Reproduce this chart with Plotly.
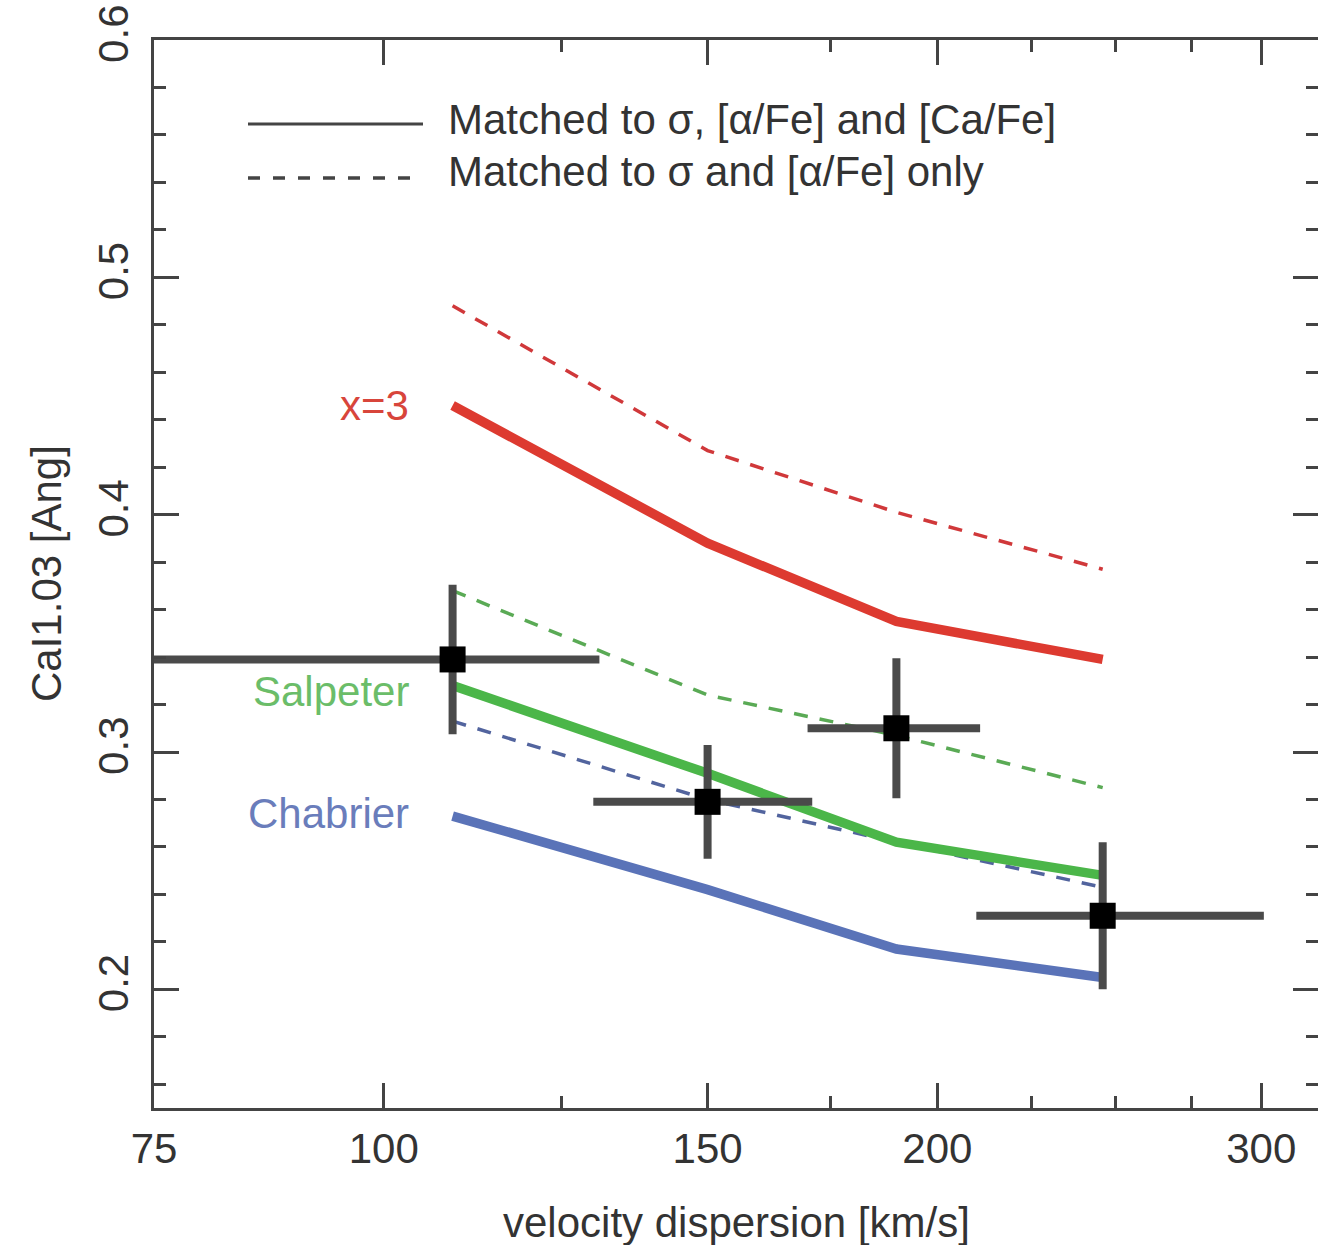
import plotly.graph_objects as go
import numpy as np

# ---------------- data ----------------
sigma = [109, 150, 190, 246]

x3_full = [0.446, 0.388, 0.355, 0.339]
x3_alpha = [0.488, 0.427, 0.401, 0.377]
salp_full = [0.328, 0.291, 0.262, 0.248]
salp_alpha = [0.368, 0.324, 0.307, 0.285]
chab_full = [0.273, 0.242, 0.217, 0.205]
chab_alpha = [0.313, 0.280, 0.262, 0.243]

obs_sigma = [109, 150, 190, 246]
obs_cai = [0.339, 0.279, 0.310, 0.231]
obs_err = [0.0315, 0.024, 0.0295, 0.031]
bin_lo = [60, 130, 170, 210]
bin_hi = [131, 171, 211, 301]

x_tick_vals = [75, 100, 150, 200, 300]
x_minor_vals = [125, 175, 225, 250, 275]
y_tick_vals = [0.2, 0.3, 0.4, 0.5, 0.6]

# ---------------- style ----------------
RED = "#dd3a30"
RED_D = "#d0383a"
GREEN = "#4bb649"
GREEN_D = "#5aaa55"
BLUE = "#5a73b8"
BLUE_D = "#52649e"
AX = "#444444"
TXT = "#333333"
FONT = "Liberation Sans, Arial, Helvetica, sans-serif"
FS = 42

W, H = 1318, 1245
L, R, T, B = 154, 0, 40, 137
PW, PH = W - L - R, H - T - B

fig = go.Figure()

def add_line(y, color, width, dash=None):
    fig.add_trace(go.Scatter(
        x=sigma, y=y, mode="lines",
        line=dict(color=color, width=width, dash=dash or "solid"),
        showlegend=False, hoverinfo="skip"))

add_line(x3_alpha, RED_D, 3.5, "14px,12px")
add_line(salp_alpha, GREEN_D, 3.5, "14px,12px")
add_line(chab_alpha, BLUE_D, 3.5, "14px,12px")
add_line(x3_full, RED, 9.5)
add_line(salp_full, GREEN, 9.5)
add_line(chab_full, BLUE, 9.5)

xm = [s - lo for s, lo in zip(obs_sigma, bin_lo)]
xp = [hi - s for s, hi in zip(obs_sigma, bin_hi)]
fig.add_trace(go.Scatter(
    x=obs_sigma, y=obs_cai, mode="markers",
    marker=dict(symbol="square", size=26, color="black"),
    error_y=dict(type="data", array=obs_err, color="#4a4a4a", thickness=8, width=0),
    error_x=dict(type="data", array=xp, arrayminus=xm, color="#4a4a4a", thickness=8, width=0),
    showlegend=False, hoverinfo="skip"))

# empty trace carrying the right-hand tick axis
fig.add_trace(go.Scatter(x=[], y=[], yaxis="y2", showlegend=False, hoverinfo="skip"))

# ---------------- axes ----------------
fig.update_layout(
    xaxis=dict(
        type="log", range=[np.log10(75), np.log10(75) + PW / 1839.0],
        tickmode="array", tickvals=x_tick_vals, ticktext=[str(v) for v in x_tick_vals],
        ticks="inside", ticklen=25, tickwidth=2.5, tickcolor=AX,
        minor=dict(tickmode="array", tickvals=x_minor_vals, ticks="inside", ticklen=12,
                   tickwidth=2.5, tickcolor=AX, showgrid=False),
        showline=True, linecolor=AX, linewidth=2.5, mirror="ticks",
        showgrid=False, zeroline=False,
        tickfont=dict(family=FONT, size=FS, color=TXT), ticklabelstandoff=2,
    ),
    yaxis=dict(
        range=[0.15, 0.6],
        tickmode="array", tickvals=y_tick_vals, ticktext=[f"{v:.1f}" for v in y_tick_vals],
        ticks="inside", ticklen=25, tickwidth=2.5, tickcolor=AX,
        minor=dict(dtick=0.02, tick0=0, ticks="inside", ticklen=12, tickwidth=2.5,
                   tickcolor=AX, showgrid=False),
        showline=True, linecolor=AX, linewidth=2.5, mirror=False,
        showgrid=False, zeroline=False, tickangle=-90,
        tickfont=dict(family=FONT, size=FS, color=TXT), ticklabelstandoff=6,
    ),
    yaxis2=dict(
        range=[0.15, 0.6], overlaying="y", side="right", anchor="x",
        tickmode="array", tickvals=y_tick_vals,
        ticks="inside", ticklen=25, tickwidth=2.5, tickcolor=AX,
        minor=dict(dtick=0.02, tick0=0, ticks="inside", ticklen=12, tickwidth=2.5,
                   tickcolor=AX, showgrid=False),
        showline=False, showticklabels=False, showgrid=False, zeroline=False,
    ),
)

# ---------------- legend (drawn) ----------------
def px(xp_):
    return (xp_ - L) / PW

def py(yp_):
    return 1 - (yp_ - T) / PH

shapes = [
    dict(type="line", xref="paper", yref="paper", x0=px(248), x1=px(423), y0=py(124), y1=py(124),
         line=dict(color=AX, width=3)),
    dict(type="line", xref="paper", yref="paper", x0=px(248), x1=px(412), y0=py(178), y1=py(178),
         line=dict(color=AX, width=3.5, dash="12px,13px")),
]
annotations = [
    dict(xref="paper", yref="paper", x=px(446), y=py(119), xanchor="left", yanchor="middle",
         text="Matched to σ, [α/Fe] and [Ca/Fe]", showarrow=False,
         font=dict(family=FONT, size=FS, color=TXT)),
    dict(xref="paper", yref="paper", x=px(446), y=py(171), xanchor="left", yanchor="middle",
         text="Matched to σ and [α/Fe] only", showarrow=False,
         font=dict(family=FONT, size=FS, color=TXT)),
    # curve labels
    dict(x=np.log10(sigma[0]), y=x3_full[0], xanchor="right", yanchor="middle", xshift=-42,
         text="x=3", showarrow=False, font=dict(family=FONT, size=FS, color="#d8453b")),
    dict(x=np.log10(sigma[0]), y=salp_full[0], xanchor="right", yanchor="middle", xshift=-42, yshift=-6,
         text="Salpeter", showarrow=False, font=dict(family=FONT, size=FS, color="#6bbd69")),
    dict(x=np.log10(sigma[0]), y=chab_full[0], xanchor="right", yanchor="middle", xshift=-42, yshift=3,
         text="Chabrier", showarrow=False, font=dict(family=FONT, size=FS, color="#6a7dbb")),
    # axis titles
    dict(xref="paper", yref="paper", x=0.5, y=0, xanchor="center", yanchor="middle", yshift=-114,
         text="velocity dispersion [km/s]", showarrow=False,
         font=dict(family=FONT, size=FS, color=TXT)),
    dict(xref="paper", yref="paper", x=0, y=0.5, xanchor="center", yanchor="middle", xshift=-108,
         text="CaI1.03 [Ang]", textangle=-90, showarrow=False,
         font=dict(family=FONT, size=FS, color=TXT)),
]

fig.update_layout(
    width=W, height=H,
    margin=dict(l=L, r=R, t=T, b=B, pad=0),
    paper_bgcolor="white", plot_bgcolor="white",
    shapes=shapes, annotations=annotations,
    showlegend=False,
)

fig.write_html("out.html")
